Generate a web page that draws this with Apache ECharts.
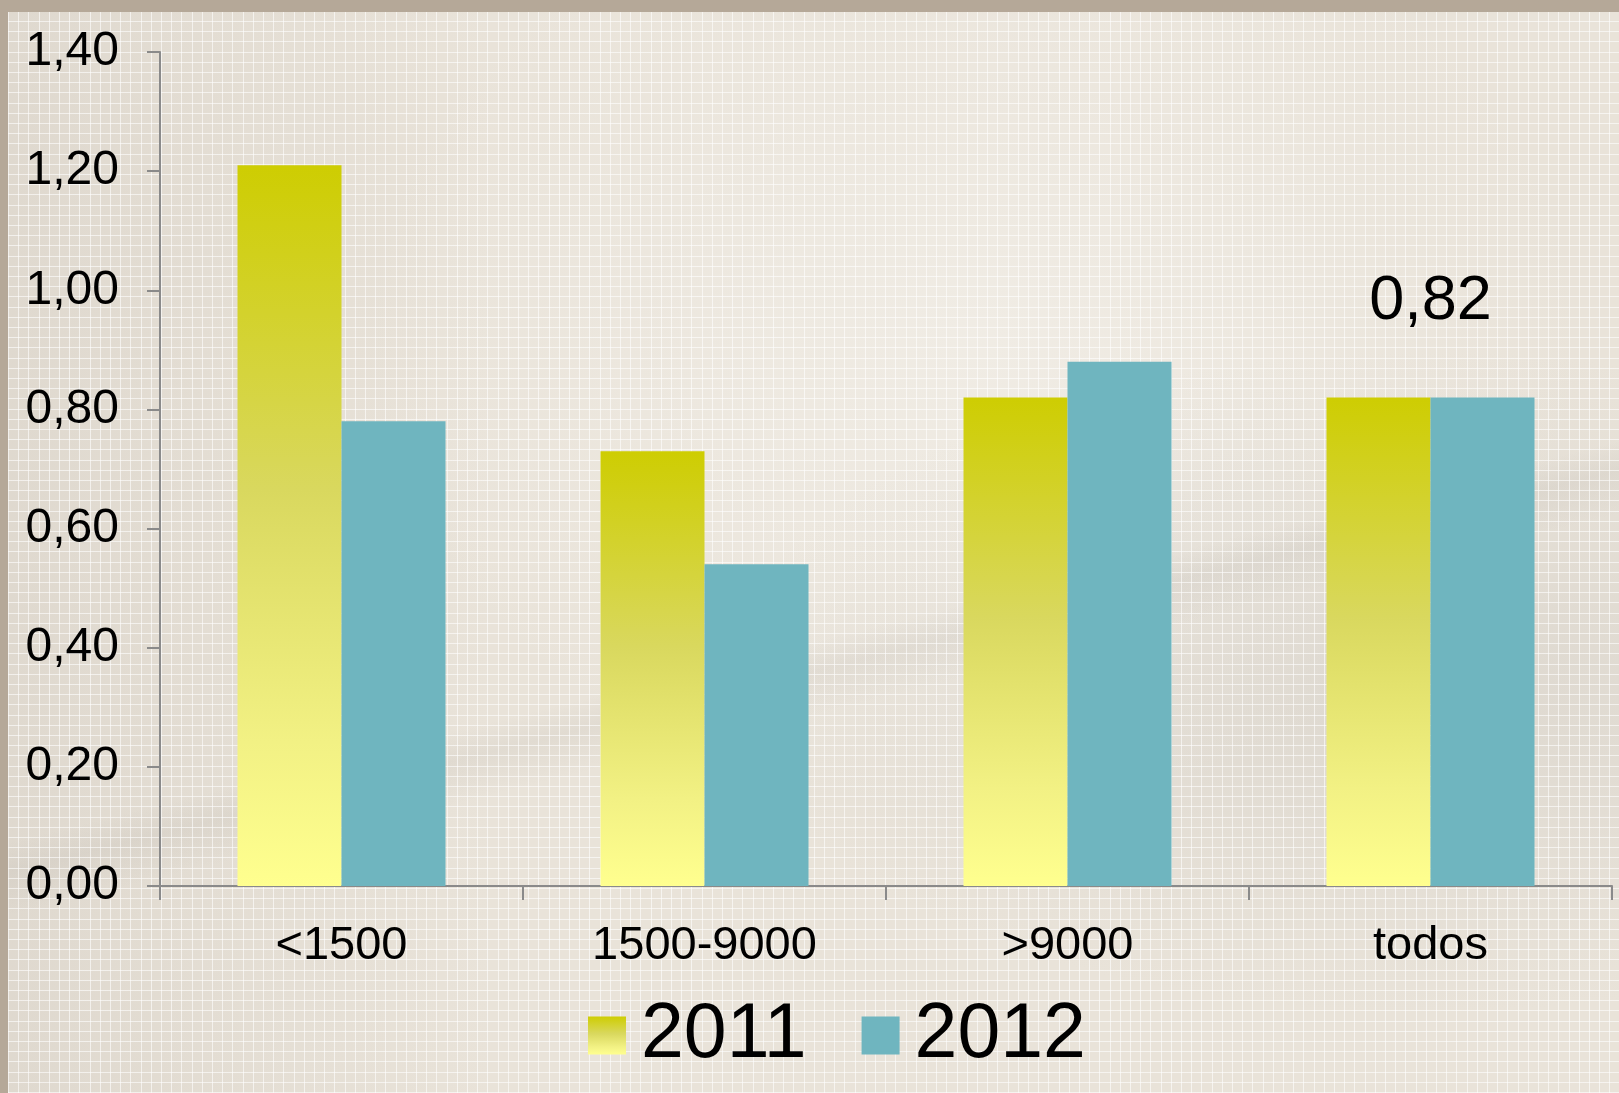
<!DOCTYPE html>
<html>
<head>
<meta charset="utf-8">
<script src="https://cdn.jsdelivr.net/npm/echarts@6/dist/echarts.min.js"></script>
<style>
  html, body { margin: 0; padding: 0; }
  #wrap { position: relative; width: 1619px; height: 1093px; overflow: hidden; background: #b5a898; }
  #bg {
    position: absolute; left: 8px; top: 12px; right: 0; bottom: 0;
    background-color: #e9e3d9;
    background-image:
      repeating-linear-gradient(90deg, rgba(255,255,255,0.6) 0px, rgba(255,255,255,0.6) 1px, transparent 1px, transparent 10.2px),
      repeating-linear-gradient(0deg, rgba(255,255,255,0.6) 0px, rgba(255,255,255,0.6) 1px, transparent 1px, transparent 10.2px),
      linear-gradient(166deg, transparent 0%, transparent 56%, rgba(120,115,110,0.07) 58%, transparent 61%, transparent 100%),
      radial-gradient(ellipse at 88% 62%, rgba(200,196,190,0.35) 0%, rgba(200,196,190,0) 35%),
      radial-gradient(ellipse at 60% 30%, rgba(245,242,236,0.6) 0%, rgba(245,242,236,0) 45%),
      linear-gradient(90deg, rgba(205,198,188,0.35) 0%, rgba(205,198,188,0) 30%);
  }
  #chart { position: absolute; left: 0; top: 0; width: 1619px; height: 1093px; }
</style>
</head>
<body>
<div id="wrap">
  <div id="bg"></div>
  <div id="chart"></div>
</div>
<script>
const categories = ['<1500', '1500-9000', '>9000', 'todos'];
const values2011 = [1.21, 0.73, 0.82, 0.82];
const values2012 = [0.78, 0.54, 0.88, 0.82];
const seriesNames = ['2011', '2012'];
const annotatedIndex = 3;
const yMin = 0, yMax = 1.4, yInterval = 0.2;

const fontFamily = '"Liberation Sans", Arial, Helvetica, sans-serif';
const fmt = v => v.toFixed(2).replace('.', ',');

const grad2011 = {
  type: 'linear', x: 0, y: 0, x2: 0, y2: 1,
  colorStops: [
    { offset: 0, color: '#cecd02' },
    { offset: 0.45, color: '#d9d85e' },
    { offset: 0.8, color: '#f2f184' },
    { offset: 1, color: '#ffff8f' }
  ]
};

const labelData = categories.map((c, i) => i === annotatedIndex ? values2011[i] : '-');

const chart = echarts.init(document.getElementById('chart'), null, { renderer: 'canvas' });
chart.setOption({
  backgroundColor: 'transparent',
  animation: false,
  grid: { left: 160, right: 7, top: 52, bottom: 207, containLabel: false },
  legend: {
    data: seriesNames,
    left: 588, top: 997, padding: 0,
    itemWidth: 38, itemHeight: 38, itemGap: 55,
    icon: 'rect',
    textStyle: { fontSize: 77, color: '#000', fontFamily: fontFamily, padding: [0, 0, 0, 10] }
  },
  xAxis: {
    type: 'category',
    data: categories,
    axisLine: { show: true, lineStyle: { color: '#8a8a8a', width: 2 } },
    axisTick: { show: true, length: 14, interval: 0, alignWithLabel: false, lineStyle: { color: '#8a8a8a', width: 2 } },
    axisLabel: { fontSize: 47, color: '#000', fontFamily: fontFamily, margin: 37, interval: 0 },
    splitLine: { show: false }
  },
  yAxis: {
    type: 'value',
    min: yMin, max: yMax, interval: yInterval,
    axisLine: { show: true, lineStyle: { color: '#8a8a8a', width: 2 } },
    axisTick: { show: true, length: 13, lineStyle: { color: '#8a8a8a', width: 2 } },
    axisLabel: { fontSize: 48, color: '#000', fontFamily: fontFamily, margin: 41, formatter: fmt },
    splitLine: { show: false }
  },
  series: [
    {
      name: seriesNames[0], type: 'bar', data: values2011,
      barWidth: 104, barGap: '0%',
      itemStyle: { color: grad2011 }
    },
    {
      name: seriesNames[1], type: 'bar', data: values2012,
      barWidth: 104, barGap: '0%',
      itemStyle: { color: '#6fb5bf' }
    },
    {
      name: 'label', type: 'scatter', data: labelData,
      symbolSize: 0, silent: true, z: 10,
      itemStyle: { opacity: 1 },
      label: {
        show: true, position: 'top', distance: 64,
        fontSize: 63, color: '#000000', opacity: 1, fontFamily: fontFamily,
        textBorderWidth: 0,
        formatter: p => fmt(p.value)
      }
    }
  ]
});
</script>
</body>
</html>
